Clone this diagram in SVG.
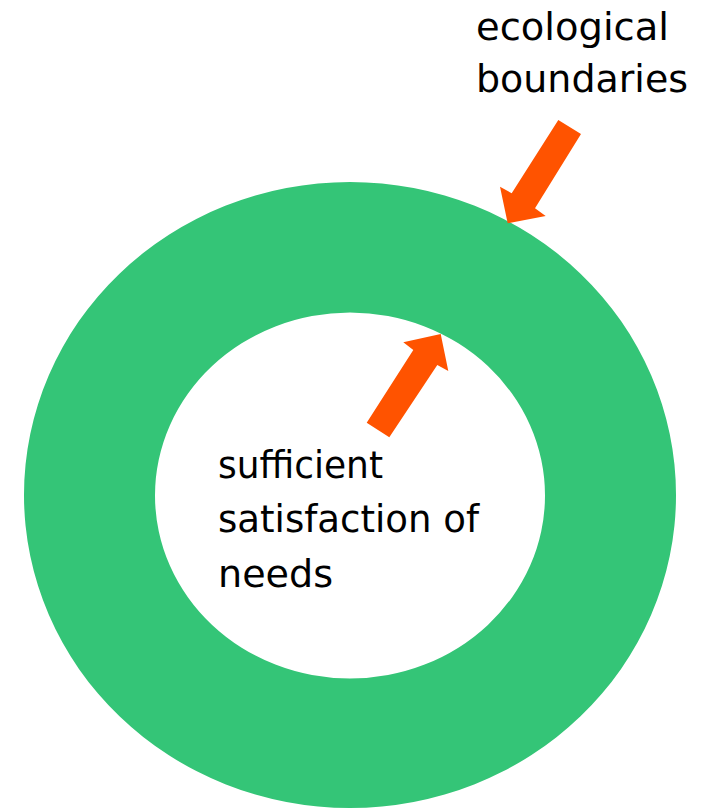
<svg xmlns="http://www.w3.org/2000/svg" width="718" height="808" viewBox="0 0 718 808">
<style>
.lbl{font-family:"DejaVu Sans","Liberation Sans",sans-serif;font-size:37px;fill:#000}
.arrow{fill:#ff5300}
</style>
<rect width="718" height="808" fill="#fff"/>
<g id="ring">
<path fill="#34c577" fill-rule="evenodd" d="M24,495 A326,313 0 1,0 676,495 A326,313 0 1,0 24,495 Z M155,495.5 A195,183 0 1,1 545,495.5 A195,183 0 1,1 155,495.5 Z"/>
</g>
<g id="label-ecological">
<text class="lbl" x="476" y="39.5" textLength="193" lengthAdjust="spacingAndGlyphs">ecological</text>
<text class="lbl" x="476" y="92" textLength="212" lengthAdjust="spacingAndGlyphs">boundaries</text>
</g>
<g id="label-needs">
<text class="lbl" x="218" y="478" textLength="165" lengthAdjust="spacingAndGlyphs">sufficient</text>
<text class="lbl" x="218" y="532" textLength="261" lengthAdjust="spacingAndGlyphs">satisfaction of</text>
<text class="lbl" x="218" y="586.5" textLength="115" lengthAdjust="spacingAndGlyphs">needs</text>
</g>
<g id="connectors">
<polygon class="arrow" points="558.3,120 581,134 535,208.3 545.7,216 507.7,223.3 500,186.7 511.7,193.3"/>
<polygon class="arrow" points="440.7,334 448.3,371 437.3,365 389.3,437.3 366.7,422.7 413.3,350 403.3,342.3"/>
</g>
</svg>
